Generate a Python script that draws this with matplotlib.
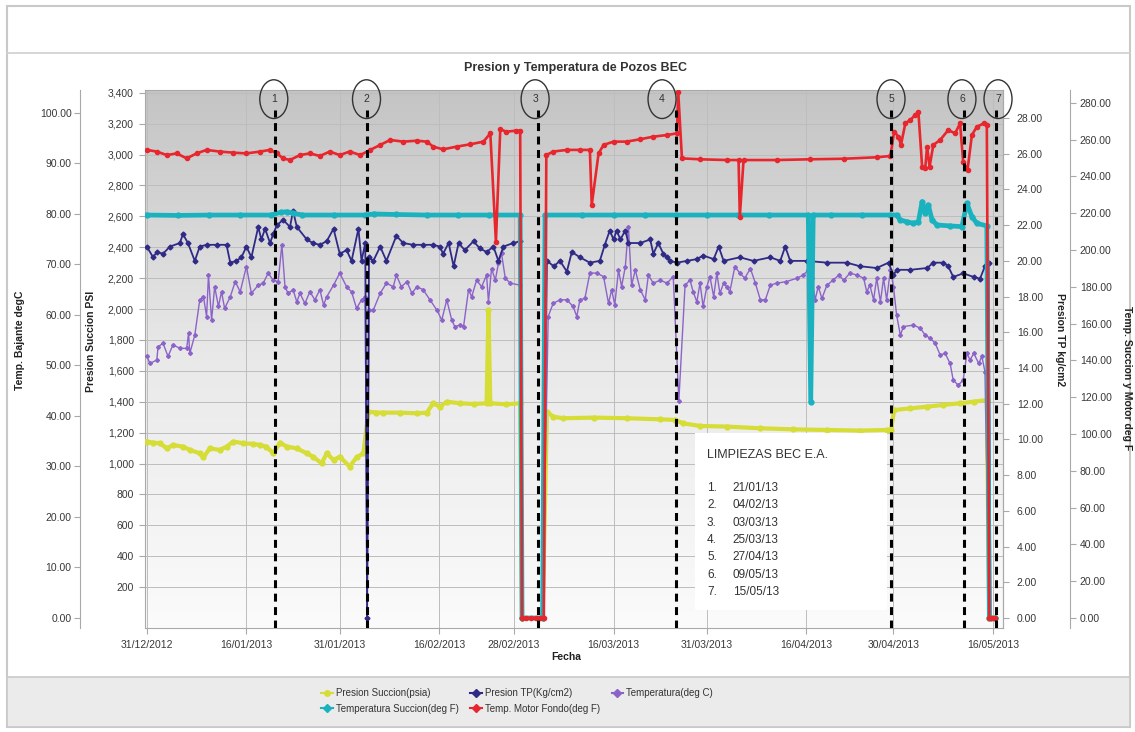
import numpy as np
import pandas as pd
import matplotlib
matplotlib.use('Agg')
import matplotlib.pyplot as plt
import matplotlib.dates as mdates
import matplotlib.transforms as mtransforms
from matplotlib.patches import Ellipse, Rectangle
from matplotlib.lines import Line2D
from matplotlib.ticker import FuncFormatter, FixedLocator
from matplotlib.colors import LinearSegmentedColormap

plt.rcParams['font.family'] = ['Liberation Sans', 'DejaVu Sans']

FECHA_INICIO = pd.Timestamp('2012-12-31')

# ---------------- data (days after 31/12/2012, values) ----------------
tp_dias = [0.0, 1.0, 1.6, 2.6, 3.7, 5.3, 5.8, 6.6, 7.7, 8.5,
           9.6, 11.2, 12.8, 13.4, 14.4, 15.2, 16.0, 16.8, 17.9, 18.4,
           19.0, 19.8, 20.3, 20.9, 21.9, 23.0, 23.5, 24.1, 25.7, 26.7,
           27.8, 28.9, 30.0, 31.0, 32.1, 32.9, 34.0, 34.5, 35.1, 35.4,
           35.7, 36.4, 37.5, 38.5, 40.1, 41.2, 42.8, 44.4, 46.0, 47.1,
           47.6, 48.5, 49.3, 50.1, 51.1, 52.5, 53.5, 54.6, 55.7, 56.5,
           57.3, 58.9, 60.0, 60.3, 63.6, 64.3, 65.4, 66.4, 67.5, 68.3,
           69.6, 71.2, 72.8, 73.6, 74.4, 75.0, 75.5, 76.1, 76.9, 77.4,
           79.3, 80.9, 81.4, 82.2, 83.0, 83.6, 84.1, 85.2, 86.8, 88.4,
           89.4, 91.1, 91.9, 92.7, 95.3, 97.5, 100.2, 101.8, 102.6, 103.4,
           106.1, 109.3, 112.5, 114.6, 117.3, 119.2, 120.0, 120.5, 122.7, 125.4,
           126.4, 128.0, 128.8, 129.6, 131.2, 132.9, 133.9, 134.7, 135.3, 135.6,
           136.3]
tp_vals = [20.8, 20.2, 20.5, 20.4, 20.8, 21.0, 21.5, 21.0, 20.0, 20.8,
           20.9, 20.9, 20.9, 19.9, 20.0, 20.2, 20.8, 20.2, 21.9, 21.2,
           21.8, 21.0, 21.5, 22.0, 22.3, 21.9, 22.8, 21.9, 21.2, 21.0,
           20.9, 21.1, 21.8, 20.4, 20.6, 20.0, 21.8, 20.0, 21.0, 0.0,
           20.2, 20.0, 20.8, 20.0, 21.4, 21.0, 20.9, 20.9, 20.9, 20.8,
           20.4, 21.0, 19.7, 21.0, 20.6, 21.1, 20.7, 20.5, 20.8, 20.0,
           20.8, 21.0, 21.1, 0.0, 0.0, 20.0, 19.7, 20.0, 19.4, 20.5,
           20.2, 19.9, 20.0, 20.9, 21.7, 21.2, 21.7, 21.2, 21.7, 21.0,
           21.0, 21.2, 20.4, 21.0, 20.4, 20.2, 20.0, 19.9, 20.0, 20.1,
           20.3, 20.1, 20.8, 20.0, 20.2, 20.0, 20.2, 20.0, 20.8, 20.0,
           20.0, 19.9, 19.9, 19.7, 19.6, 19.9, 19.2, 19.5, 19.5, 19.6,
           19.9, 19.9, 19.7, 19.1, 19.3, 19.1, 19.0, 19.7, 19.9, 0.0,
           0.0]

temp_dias = [0.0, 0.5, 1.6, 1.8, 2.6, 3.4, 4.2, 5.3, 6.4, 6.7,
             6.9, 7.7, 8.5, 9.1, 9.6, 9.9, 10.4, 10.9, 11.5, 12.0,
             12.5, 13.4, 14.2, 15.0, 16.0, 16.8, 17.9, 18.7, 19.5, 20.3,
             21.1, 21.7, 22.2, 22.7, 23.5, 24.1, 24.6, 25.4, 26.2, 27.0,
             27.8, 28.4, 28.9, 30.0, 31.0, 32.1, 32.9, 33.7, 34.5, 35.1,
             35.4, 35.7, 36.4, 37.5, 38.5, 39.6, 40.1, 40.9, 41.8, 42.6,
             43.4, 44.4, 45.5, 46.6, 47.4, 48.2, 49.0, 49.5, 50.3, 50.9,
             51.7, 52.2, 53.0, 53.8, 54.6, 54.9, 55.4, 56.0, 56.5, 57.0,
             57.6, 58.4, 60.0, 60.3, 63.6, 64.5, 65.3, 66.4, 67.5, 68.5,
             69.1, 69.6, 70.4, 71.2, 72.3, 73.4, 74.2, 74.7, 75.2, 75.8,
             76.3, 76.9, 77.4, 77.9, 78.5, 79.3, 80.1, 80.6, 81.4, 82.5,
             83.6, 84.6, 85.5, 86.5, 87.3, 87.8, 88.4, 88.9, 89.4, 90.0,
             90.5, 91.1, 91.6, 92.1, 92.7, 93.2, 93.7, 94.5, 95.3, 96.1,
             97.0, 97.8, 98.6, 99.4, 100.2, 101.2, 102.8, 104.5, 105.5, 106.3,
             106.9, 107.4, 107.9, 108.5, 109.3, 110.3, 111.2, 112.0, 113.0, 114.1,
             115.2, 115.7, 116.2, 116.8, 117.3, 117.9, 118.4, 118.9, 119.5, 120.0,
             120.5, 121.1, 121.6, 123.2, 124.3, 125.1, 125.9, 126.7, 127.5, 128.3,
             129.1, 129.6, 130.4, 131.2, 131.8, 132.3, 132.9, 133.7, 134.2, 134.7,
             135.4, 136.3]
temp_vals = [51.8, 50.4, 51.1, 53.7, 54.4, 51.8, 54.1, 53.4, 53.4, 56.4,
             52.4, 56.0, 63.0, 63.6, 59.7, 67.9, 59.0, 65.6, 61.7, 64.6,
             61.3, 63.6, 66.6, 64.6, 69.6, 64.3, 65.9, 66.3, 68.3, 66.9,
             66.6, 73.9, 65.6, 64.3, 65.0, 62.6, 64.3, 62.3, 64.6, 63.0,
             65.0, 62.0, 63.6, 65.9, 68.3, 65.6, 64.6, 61.3, 63.0, 63.6,
             0.0, 61.0, 61.0, 64.3, 66.3, 65.6, 67.9, 65.6, 66.6, 64.3,
             65.6, 65.0, 63.0, 61.0, 59.0, 63.0, 59.0, 57.7, 58.0, 57.7,
             65.0, 63.6, 66.9, 65.6, 67.9, 62.6, 69.2, 66.9, 70.2, 72.2,
             67.3, 66.3, 65.9, 0.0, 0.0, 59.7, 62.3, 63.0, 63.0, 61.7,
             59.7, 63.0, 63.3, 68.3, 68.3, 67.6, 62.3, 65.0, 62.0, 68.9,
             65.6, 69.6, 77.5, 65.9, 68.9, 65.0, 63.0, 67.9, 66.3, 66.9,
             66.3, 67.6, 43.0, 65.9, 66.9, 64.6, 62.6, 66.3, 61.7, 65.6,
             67.6, 63.6, 68.3, 64.3, 66.3, 65.6, 64.6, 69.6, 68.3, 67.3,
             69.2, 66.3, 63.0, 63.0, 65.9, 66.3, 66.6, 67.3, 67.9, 68.9,
             67.3, 63.0, 65.6, 63.3, 65.9, 66.9, 67.9, 66.9, 68.3, 67.9,
             67.3, 64.6, 65.9, 63.0, 67.3, 62.6, 67.3, 63.0, 68.9, 65.6,
             60.0, 56.0, 57.7, 58.0, 57.4, 56.0, 55.4, 54.4, 52.1, 52.4,
             50.4, 47.1, 46.1, 47.1, 52.4, 51.1, 52.4, 50.4, 51.8, 48.8,
             0.0, 0.0]

psuc_dias = [0.0, 1.0, 2.1, 3.2, 4.2, 5.8, 6.9, 8.5, 9.1, 10.1,
             11.7, 12.8, 13.9, 15.5, 17.1, 18.2, 19.2, 20.3, 21.4, 22.5,
             24.1, 25.7, 26.7, 28.1, 28.9, 30.0, 31.0, 32.6, 33.7, 34.8,
             35.6, 36.8, 38.0, 40.7, 43.4, 45.0, 46.0, 47.1, 48.2, 50.3,
             52.5, 54.6, 54.9, 55.2, 57.8, 60.0, 60.3, 63.6, 64.3, 65.3,
             66.9, 71.8, 77.1, 82.5, 84.9, 86.2, 88.9, 93.2, 98.6, 103.9,
             109.3, 114.6, 118.9, 119.6, 120.1, 122.7, 125.4, 128.0, 130.7, 132.9,
             135.0, 135.4, 136.3]
psuc_vals = [1142, 1135, 1131, 1098, 1120, 1109, 1088, 1066, 1040, 1098,
             1088, 1109, 1142, 1131, 1127, 1120, 1109, 1066, 1135, 1109,
             1098, 1066, 1044, 1001, 1066, 1023, 1044, 980, 1040, 1066,
             1336, 1330, 1329, 1329, 1325, 1329, 1390, 1368, 1400, 1390,
             1385, 1390, 1993, 1390, 1383, 1390, 0, 0, 1336, 1303,
             1293, 1297, 1293, 1286, 1282, 1260, 1243, 1239, 1228, 1221,
             1217, 1213, 1217, 1217, 1346, 1357, 1368, 1379, 1390, 1400,
             1411, 0, 0]

tsuc_dias = [0.0, 5.0, 10.0, 15.0, 20.0, 21.5, 22.5, 23.5, 25.0, 30.0,
             35.0, 36.5, 40.0, 45.0, 50.0, 55.0, 60.0, 60.3, 63.6, 64.0,
             70.0, 75.0, 80.0, 85.0, 90.0, 95.0, 100.0, 106.3, 106.7, 107.1,
             110.0, 115.0, 119.5, 120.5, 121.1, 122.1, 123.2, 124.0, 124.6, 125.1,
             125.6, 126.2, 127.0, 129.1, 131.0, 131.8, 132.6, 133.4, 135.0, 135.4,
             136.3]
tsuc_vals = [219.0, 218.8, 219.0, 219.0, 219.0, 220.5, 220.8, 220.0, 219.0, 219.0,
             219.0, 219.6, 219.3, 219.0, 219.0, 219.0, 219.0, 0.0, 0.0, 219.0,
             219.0, 219.0, 219.0, 219.0, 219.0, 219.0, 219.0, 219.0, 117.5, 219.0,
             219.0, 219.0, 219.0, 219.0, 216.3, 215.4, 214.5, 215.4, 226.3, 219.9,
             224.5, 216.3, 213.6, 213.1, 212.7, 225.4, 218.1, 214.5, 213.1, 0.0,
             0.0]

tmot_dias = [0.0, 1.6, 3.2, 4.8, 6.4, 8.0, 9.6, 11.7, 13.9, 16.0,
             18.2, 19.8, 20.9, 21.9, 23.0, 24.6, 26.2, 27.8, 29.4, 31.0,
             32.6, 34.3, 35.9, 37.5, 39.1, 41.2, 43.4, 45.0, 46.0, 47.6,
             49.8, 51.9, 54.1, 55.2, 56.1, 56.8, 57.8, 59.4, 60.0, 60.3,
             61.0, 61.8, 62.5, 63.2, 63.8, 64.2, 65.3, 67.5, 69.6, 71.2,
             71.5, 72.6, 73.4, 75.0, 77.1, 79.3, 81.4, 83.6, 85.2, 85.4,
             86.0, 88.9, 93.2, 95.1, 95.3, 95.9, 101.2, 106.6, 112.0, 117.3,
             119.5, 120.1, 120.8, 121.2, 121.9, 122.7, 123.5, 124.0, 124.6, 125.1,
             125.4, 125.8, 126.4, 127.5, 128.8, 129.9, 130.7, 131.2, 131.9, 132.6,
             133.4, 134.5, 135.0, 135.4, 135.9, 136.3]
tmot_vals = [254.4, 253.5, 251.6, 252.5, 249.8, 252.5, 254.4, 253.5, 252.9, 252.5,
             253.5, 254.4, 252.5, 249.8, 248.9, 251.6, 252.5, 251.1, 253.5, 251.6,
             253.5, 251.6, 254.4, 257.1, 259.8, 258.9, 259.4, 258.9, 256.2, 254.7,
             256.2, 257.4, 258.9, 263.4, 204.5, 265.6, 264.3, 264.9, 264.7, 0.0,
             0.0, 0.0, 0.0, 0.0, 0.0, 251.6, 253.5, 254.4, 254.4, 254.4,
             224.5, 252.5, 257.1, 258.9, 258.9, 260.2, 261.6, 262.5, 263.4, 286.0,
             249.8, 249.3, 248.9, 248.9, 218.1, 248.9, 248.9, 249.3, 249.6, 250.4,
             251.1, 264.3, 261.6, 257.1, 268.8, 270.7, 273.4, 275.2, 245.3, 244.4,
             256.2, 245.3, 257.1, 259.8, 265.2, 263.4, 268.8, 248.0, 243.5, 262.5,
             267.0, 268.8, 268.0, 0.0, 0.0, 0.0]

fechas_ticks = ['31/12/2012', '16/01/2013', '31/01/2013', '16/02/2013', '28/02/2013',
                '16/03/2013', '31/03/2013', '16/04/2013', '30/04/2013', '16/05/2013']
psi_ticks = [200, 400, 600, 800, 1000, 1200, 1400, 1600, 1800, 2000, 2200, 2400,
             2600, 2800, 3000, 3200, 3400]
degc_ticks = [0, 10, 20, 30, 40, 50, 60, 70, 80, 90, 100]
tp_ticks = [0, 2, 4, 6, 8, 10, 12, 14, 16, 18, 20, 22, 24, 26, 28]
degf_ticks = [0, 20, 40, 60, 80, 100, 120, 140, 160, 180, 200, 220, 240, 260, 280]

limpiezas_num = ['1', '2', '3', '4', '5', '6', '7']
limpiezas_txt = ['21/01/13', '04/02/13', '03/03/13', '25/03/13', '27/04/13', '09/05/13', '15/05/13']
limpiezas_linea_dias = [20.6, 35.4, 62.9, 85.0, 119.6, 131.4, 136.5]
limpiezas_circulo_dias = [20.4, 35.3, 62.4, 82.8, 119.6, 131.0, 136.8]

nombres = ['Presion Succion(psia)', 'Presion TP(Kg/cm2)', 'Temperatura(deg C)',
           'Temperatura Succion(deg F)', 'Temp. Motor Fondo(deg F)']
colores = ['#d5dd36', '#2f2a86', '#8c63c9', '#1bb2bf', '#e8262d']


def to_dates(d):
    return FECHA_INICIO + pd.to_timedelta(np.asarray(d, dtype=float), unit='D')


W, H = 1135, 732
fig = plt.figure(figsize=(W / 100, H / 100), dpi=100)
fig.patch.set_facecolor('white')


def px_rect(x0, y0, x1, y1):
    return [x0 / W, 1 - y1 / H, (x1 - x0) / W, (y1 - y0) / H]


def fx(x):
    return x / W


def fy(y):
    return 1 - y / H


# frame / decorations of the figure
deco = fig.add_axes([0, 0, 1, 1], zorder=-5)
deco.set_xlim(0, W)
deco.set_ylim(H, 0)
deco.axis('off')
deco.add_patch(Rectangle((7, 6), 1123, 721, facecolor='white', edgecolor='#c9c9c9', lw=1.5))
deco.plot([7, 1130], [53, 53], color='#d0d0d0', lw=1.2)
deco.add_patch(Rectangle((7, 677), 1123, 50, facecolor='#ebebeb', edgecolor='#c9c9c9', lw=1.2))

ax = fig.add_axes(px_rect(145, 90, 1003, 628))
ax_c = ax.twinx()
ax_tp = ax.twinx()
ax_f = ax.twinx()

x0 = to_dates([-0.3])[0]
x1 = to_dates([137.6])[0]

# gradient background
grad = np.linspace(0, 1, 256).reshape(-1, 1)
cm = LinearSegmentedColormap.from_list('bg', ['#fbfbfb', '#e9e9e9', '#c4c4c4'])
ax.imshow(grad, extent=[0, 1, 0, 1], transform=ax.transAxes, aspect='auto',
          cmap=cm, origin='lower', zorder=0)

# series
ax.plot(to_dates(psuc_dias), psuc_vals, color=colores[0], lw=3.0, marker='o', ms=3.5, zorder=3)
ax_c.plot(to_dates(temp_dias), temp_vals, color=colores[2], lw=1.0, marker='D', ms=2, zorder=3)
ax_tp.plot(to_dates(tp_dias), tp_vals, color=colores[1], lw=1.3, marker='D', ms=2.5, zorder=3)
ax_f.plot(to_dates(tsuc_dias), tsuc_vals, color=colores[3], lw=3.4, marker='o', ms=3.5, zorder=3)
ax_f.plot(to_dates(tmot_dias), tmot_vals, color=colores[4], lw=1.9, marker='o', ms=3, zorder=4)

ax.set_ylim(-64.7, 3417.5)
ax_c.set_ylim(-1.98, 104.55)
ax_tp.set_ylim(-0.56, 29.57)
ax_f.set_ylim(-5.43, 286.96)
ax.set_xlim(x0, x1)

# ticks / axes styling
spine_col = '#a9a9a9'
lab_col = '#383838'
tick_dates = pd.to_datetime(fechas_ticks, format='%d/%m/%Y')
ax.xaxis.set_major_locator(FixedLocator(mdates.date2num(tick_dates)))
ax.xaxis.set_major_formatter(mdates.DateFormatter('%d/%m/%Y'))
ax.set_yticks(psi_ticks)
ax.yaxis.set_major_formatter(FuncFormatter(lambda v, p: f'{v:,.0f}'))
ax.grid(True, color='#bdbdbd', lw=0.7, zorder=1)
ax.set_axisbelow(True)
for s in ax.spines.values():
    s.set_color(spine_col)
ax.tick_params(axis='both', colors=spine_col, labelcolor=lab_col, labelsize=7.5,
               length=4, direction='out')
ax.tick_params(axis='y', pad=4)
ax.tick_params(axis='x', pad=5)

# outer left (deg C)
for k in ['right', 'top', 'bottom']:
    ax_c.spines[k].set_visible(False)
ax_c.spines['left'].set_visible(True)
ax_c.spines['left'].set_position(('axes', -65 / 858))
ax_c.spines['left'].set_color(spine_col)
ax_c.yaxis.tick_left()
ax_c.set_yticks(degc_ticks)
ax_c.yaxis.set_major_formatter(FuncFormatter(lambda v, p: f'{v:.2f}'))
ax_c.tick_params(axis='y', colors=spine_col, labelcolor=lab_col, labelsize=7.5, length=4, pad=2)

# right TP
for k in ['left', 'top', 'bottom']:
    ax_tp.spines[k].set_visible(False)
ax_tp.spines['right'].set_color(spine_col)
ax_tp.set_yticks(tp_ticks)
ax_tp.yaxis.set_major_formatter(FuncFormatter(lambda v, p: f'{v:.2f}'))
ax_tp.tick_params(axis='y', colors=spine_col, labelcolor=lab_col, labelsize=7.5, length=4, pad=6)

# outer right deg F
for k in ['left', 'top', 'bottom']:
    ax_f.spines[k].set_visible(False)
ax_f.spines['right'].set_position(('axes', (1070 - 145) / 858))
ax_f.spines['right'].set_color(spine_col)
ax_f.set_yticks(degf_ticks)
ax_f.yaxis.set_major_formatter(FuncFormatter(lambda v, p: f'{v:.2f}'))
ax_f.tick_params(axis='y', colors=spine_col, labelcolor=lab_col, labelsize=7.5, length=4, pad=3)

# axis labels
lab_kw = dict(fontsize=7.5, fontweight='bold', color='#222222', ha='center', va='center')
fig.text(fx(20), fy(340), 'Temp. Bajante degC', rotation=90, **lab_kw)
fig.text(fx(91), fy(341), 'Presion Succion PSI', rotation=90, **lab_kw)
fig.text(fx(1060), fy(340), 'Presion TP kg/cm2', rotation=270, **lab_kw)
fig.text(fx(1127), fy(378), 'Temp. Succion y Motor deg F', rotation=270, **lab_kw)
fig.text(fx(566), fy(657), 'Fecha', **lab_kw)
fig.text(fx(575), fy(68), 'Presion y Temperatura de Pozos BEC', fontsize=9,
         fontweight='bold', color='#333333', ha='center', va='center')

# cleaning markers
blend = mtransforms.blended_transform_factory(ax_f.transData, ax_f.transAxes)
for d in limpiezas_linea_dias:
    ax_f.axvline(to_dates([d])[0], ymin=0, ymax=0.963, color='black', lw=2.2,
                 ls=(0, (2.6, 1.8)), zorder=10)
for n, d in zip(limpiezas_num, limpiezas_circulo_dias):
    xn = mdates.date2num(to_dates([d])[0])
    e = Ellipse((xn, 0.983), width=4.5, height=0.072, transform=blend,
                facecolor='none', edgecolor='#333333', lw=1.0, clip_on=False, zorder=11)
    ax_f.add_patch(e)
    ax_f.text(xn, 0.983, n, transform=blend, ha='center', va='center', fontsize=7.5,
              color='#333333', zorder=12, clip_on=False)

# text box
ax_f.add_patch(Rectangle((0.641, 0.0335), 0.224, 0.3285, transform=ax_f.transAxes,
                         facecolor='white', edgecolor='none', zorder=8))
ax_f.text(0.655, 0.3216, 'LIMPIEZAS BEC E.A.', transform=ax_f.transAxes, fontsize=9,
          color='#333333', va='center', ha='left', zorder=9)
for i, (n, t) in enumerate(zip(limpiezas_num, limpiezas_txt)):
    yy = 0.2602 - 0.03216 * i
    ax_f.text(0.655, yy, n + '.', transform=ax_f.transAxes, fontsize=8.5, color='#333333',
              va='center', ha='left', zorder=9)
    ax_f.text(0.685, yy, t, transform=ax_f.transAxes, fontsize=8.5, color='#333333',
              va='center', ha='left', zorder=9)

# legend
marks = ['o', 'D', 'D', 'D', 'D']
handles = [Line2D([], [], color=c, marker=m, ms=4, lw=1.5) for c, m in zip(colores, marks)]
order = [0, 3, 1, 4, 2]
fig.legend([handles[i] for i in order], [nombres[i] for i in order], ncol=3,
           loc='center', bbox_to_anchor=(fx(517), fy(701)), frameon=False,
           fontsize=7, handlelength=1.2, handletextpad=0.3, columnspacing=1.2,
           labelspacing=0.55, labelcolor='#333333')

fig.savefig('out.png', dpi=100)
